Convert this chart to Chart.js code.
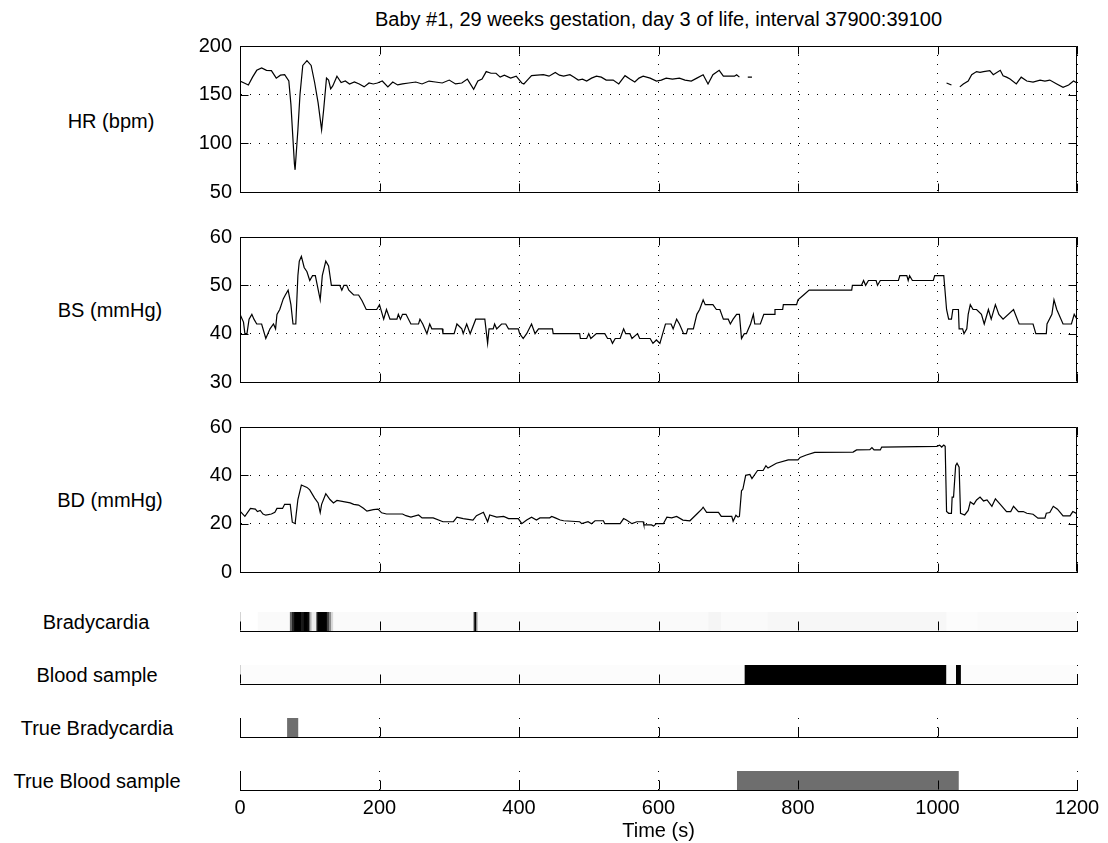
<!DOCTYPE html>
<html><head><meta charset="utf-8">
<script src="https://cdn.jsdelivr.net/npm/chart.js@4.4.1/dist/chart.umd.min.js"></script>
<style>
html,body{margin:0;padding:0;background:#fff;}
#wrap{position:relative;width:1108px;height:843px;background:#fff;font-family:"Liberation Sans",Arial,Helvetica,sans-serif;color:#000;overflow:hidden}
canvas{position:absolute;left:0}
.lbl{position:absolute;font-size:20px;white-space:nowrap;transform:translate(-50%,-50%);line-height:1}
</style></head><body>
<div id="wrap">
<div class="lbl" style="left:658.5px;top:19px">Baby #1, 29 weeks gestation, day 3 of life, interval 37900:39100</div>
<div class="lbl" style="left:111px;top:121px">HR (bpm)</div>
<div class="lbl" style="left:110px;top:310px">BS (mmHg)</div>
<div class="lbl" style="left:110px;top:500px">BD (mmHg)</div>
<div class="lbl" style="left:96px;top:622px">Bradycardia</div>
<div class="lbl" style="left:97px;top:675px">Blood sample</div>
<div class="lbl" style="left:97px;top:728px">True Bradycardia</div>
<div class="lbl" style="left:97px;top:781px">True Blood sample</div>
<canvas id="cHR" width="1108" height="186" style="top:26px"></canvas>
<canvas id="cBS" width="1108" height="185" style="top:217px"></canvas>
<canvas id="cBD" width="1108" height="185" style="top:407px"></canvas>
<canvas id="cBr" width="1108" height="29" style="top:607px"></canvas>
<canvas id="cBl" width="1108" height="29" style="top:660px"></canvas>
<canvas id="cTBr" width="1108" height="29" style="top:713px"></canvas>
<canvas id="cTBl" width="1108" height="77" style="top:766px"></canvas>
</div>
<script>
// ---------------- DATA ----------------
const hrTime = [
 0,6,12,18,24,31,38,45,52,58,
 64,70,73,78,79,83,86,90,96,102,
 107,112,117,120,124,127,130,133,139,145,
 151,157,164,171,178,185,191,197,204,212,
 219,226,233,242,252,261,271,280,290,300,
 309,318,326,335,341,347,353,360,367,373,
 379,388,396,404,407,412,418,426,435,443,
 452,458,464,473,479,485,491,497,504,511,
 518,525,535,543,552,559,566,572,578,588,
 597,604,611,620,630,638,647,655,664,671,
 678,687,693,701,709,712,716,720,728,734,
 736,1013,1020,1025,1032,1037,1044,1049,1056,1061,
 1066,1075,1080,1090,1094,1099,1104,1113,1120,1128,
 1137,1147,1154,1161,1171,1180,1188,1195,1200];
const hrValue = [
 164,162,160,168,175,177.5,175,174.7,167,170,
 170.5,164,140,79,72.8,114,150,180,185,180,
 162.5,141.6,114,135,167,165,156,159,169,162.5,
 164,161,163,161,158,162,161,162,164,158,
 163,160,161,162,163,161,164,163,162,165,
 161,162,166,155.5,164,166,173.7,172,172,168,
 170,167,169,162,161,165,169.5,170,170.5,169,
 172.8,170,169,170.5,168,165,166,164,167,169,
 168,165,165,161,169.5,166,163,167,169,167,
 164,165,167,166,167,165,164,167,170.5,161,
 170.5,175,169,169,169,170.5,168,null,168,168,
 null,162,160,null,158,161,164,170.5,173.7,173,
 173.7,174.7,170.5,175,169.5,168,166,161,168,164,
 163,165,164,165,161,157.5,160,164,162];

const bsTime = [
 0,5,7,10,13,17,20,24,31,37,
 43,48,51,53,57,62,65,69,73,76,
 80,83,85,88,92,96,100,104,108,115,
 118,123,127,131,143,146,149,153,156,163,
 170,175,181,196,200,206,210,215,225,227,
 230,233,238,245,256,258,262,268,272,275,
 290,291,307,311,318,320,325,330,338,351,
 355,357,363,365,368,375,381,385,399,401,
 406,411,418,423,428,448,449,487,488,497,
 500,503,511,523,527,531,534,538,545,550,
 553,559,562,570,573,588,592,597,602,606,
 610,618,621,626,630,636,640,642,650,655,
 659,664,667,678,683,688,693,700,703,707,
 712,716,719,723,726,729,732,736,738,746,
 751,766,767,778,779,798,800,808,816,877,
 878,891,894,897,901,912,914,918,944,946,
 956,958,960,964,994,996,1009,1013,1016,1020,
 1022,1030,1031,1036,1038,1042,1044,1047,1051,1056,
 1063,1067,1073,1077,1083,1088,1094,1109,1117,1137,
 1141,1156,1157,1164,1167,1171,1180,1192,1196,1200];
const bsValue = [
 44,42.4,40,40,43,44,43,42,42,39,
 41,42,41,44,45,47.2,48,49,46,42,
 42,52,55,56,53.7,52.8,51,52,52,47,
 52,55,54,50,50,49,50,50,49,48,
 48,46.8,45,45,46,43,45,43,43,44,
 43,44,44,42,42,43,42,40,42,41,
 41,40,40,42,41,40,42,40,43,43,
 38,41,41,42,41,42,42,41,41,40,
 39,40,42,40,41,41,40,40,39,39,
 40,39,40,40,39,39,38,39,39,41,
 40,40,39,40,39,39,38,38.7,38,40,
 42,42,41,43,42,40,40,41,41,44,
 45,47,46,46,45,45,43,43,42,43,
 44,44,39,40,40,41,42,44,42,42,
 44,44,45,45,46,46,47,48,49,49,
 50,50,51,50,51,51,50,51,51,52,
 52,51,52,51,51,52,52,45,43,43,
 45,45,41,41,40,41,44,46,45,45,
 44,42,45,43,46,44,43,45,42,42,
 40,40,42,44,47,45,42,42,44,43];

const bdTime = [
 0,7,15,22,25,29,33,37,45,50,
 53,61,64,72,75,79,83,88,96,100,
 107,112,115,117,123,129,134,139,158,163,
 170,177,182,191,198,203,210,233,238,245,
 256,261,277,291,306,311,320,334,339,349,
 355,358,368,378,385,399,404,411,418,425,
 430,444,447,452,459,464,487,490,499,504,
 509,521,523,545,550,554,562,569,578,579,
 590,593,597,607,612,619,626,635,645,655,
 662,664,669,686,690,705,707,711,714,716,
 719,721,725,731,734,742,750,754,757,769,
 786,800,803,812,824,879,884,903,906,909,
 918,920,999,1003,1006,1009,1011,1013,1016,1020,
 1021,1023,1026,1028,1031,1033,1039,1044,1047,1052,
 1056,1061,1066,1071,1078,1083,1090,1099,1105,1109,
 1116,1123,1128,1137,1144,1154,1156,1161,1166,1172,
 1180,1190,1194,1199,1200];
const bdValue = [
 25.2,23,26.3,26,25,25.5,24,23.5,24,24.7,
 26.3,26.3,28,28,20.6,20,30,36,35,34,
 30.6,28.6,24.6,28,32.4,30,28.6,29.6,28.6,28,
 27.7,26.4,25.2,25.8,26,24.5,24,24,23.3,22.7,
 23.6,22.4,22.4,20.8,20.8,22.7,22.1,21.5,23.3,24.7,
 20.8,23.6,22.7,23,22.1,22.1,20,21.5,22.7,21.5,
 22.4,22.4,23,22.4,21.5,21.2,20.8,20,20.8,20,
 21.2,21.2,20,20,22.1,21.5,20,20.8,20.8,19.5,
 19.5,19,20,20,22.7,22.4,23,21.5,21.2,24,
 26,26.8,24.7,24.7,23,23,21,23.5,22.7,23,
 33.6,34.3,40,40.4,38.7,42,42,44,43,45,
 46.4,46.4,47.4,48.4,49.5,49.6,50.5,50.6,51.5,50.5,
 50.5,51.7,52,52.5,51.7,52.5,52,25,24.3,24.3,
 31,31,44,45,43.4,24.3,23.6,25.5,29,28,
 29.8,31,29.4,29.8,27.2,30.3,28,25,25,27.2,
 25,25,24.3,23.9,22.3,22.3,24.3,24.6,27.2,26,
 23.2,23.2,25,24.3,24.3];

// detector outputs: segment edges (s) and probability inside each segment
const bradyEdges = [0,26,72,75,78,88,92,97,100,103,110,112,125,128,131,134,335,336.5,339,341,672,690,757,1013,1058,1200];
const bradyProb  = [0,0.02,0.6,0.85,1,0.9,1,0.95,0.3,0.07,0.85,1,0.75,0.45,0.15,0.02,0.5,1,0.4,0.02,0.04,0.02,0.03,0.01,0.02];
const bloodEdges = [0,724,1013,1027,1034,1200];
const bloodProb  = [0.01,1,0.02,1,0.01];
// annotated (true) events
const trueBradyStart = [68];
const trueBradyEnd   = [83];
const trueBloodStart = [713];
const trueBloodEnd   = [1030];

const xMin = 0, xMax = 1200, xStep = 200;

// ---------------- RENDERING ----------------
Chart.defaults.font.family = '"Liberation Sans", Arial, Helvetica, sans-serif';
Chart.defaults.font.size = 20;
Chart.defaults.color = '#000';
Chart.defaults.animation = false;

const matlabAxes = {
  id: 'matlabAxes',
  afterDraw(chart, args, opts) {
    const {ctx, chartArea: a, scales} = chart;
    const len = opts.len || 8;
    const L = Math.round(a.left) + 0.5, R = Math.round(a.right) - 0.5;
    const T = Math.round(a.top) + 0.5, B = Math.round(a.bottom) - 0.5;
    ctx.save();
    ctx.strokeStyle = '#000';
    ctx.lineWidth = 1;
    ctx.setLineDash([]);
    ctx.beginPath();
    const xs = scales.x;
    xs.ticks.forEach(t => {
      const px = Math.round(xs.getPixelForValue(t.value)) + 0.5;
      ctx.moveTo(px, B); ctx.lineTo(px, B - len);
      if (opts.box) { ctx.moveTo(px, T); ctx.lineTo(px, T + len); }
    });
    if (opts.box) {
      const ys = scales.y;
      ys.ticks.forEach(t => {
        const py = Math.round(ys.getPixelForValue(t.value)) + 0.5;
        ctx.moveTo(L, py); ctx.lineTo(L + len, py);
        ctx.moveTo(R, py); ctx.lineTo(R - len, py);
      });
      ctx.moveTo(L, T); ctx.lineTo(R, T); ctx.lineTo(R, B);
    }
    ctx.stroke();
    ctx.restore();
  }
};

function xScale(showLabels, z) {
  return {
    type: 'linear', min: xMin, max: xMax, z: z || 0,
    ticks: {display: showLabels, stepSize: xStep, padding: 6, color: '#000', font: {size: 20},
            callback: v => String(v)},
    grid: {color: '#000', lineWidth: 1, drawTicks: false},
    border: {display: true, color: '#000', width: 1, dash: [1, 8]},
    title: {display: showLabels, text: 'Time (s)', padding: 0, font: {size: 20}, color: '#000'},
    afterFit(s) { s.height = showLabels ? 53 : 0; }
  };
}

function lineChart(id, times, values, yMin, yMax, yStep) {
  const pts = times.map((t, i) => ({x: t, y: values[i]}));
  return new Chart(document.getElementById(id), {
    type: 'line',
    data: {datasets: [{data: pts, borderColor: '#000', borderWidth: 1.2, pointRadius: 0, tension: 0, spanGaps: false, fill: false}]},
    options: {
      responsive: false, events: [],
      layout: {padding: {top: 15, bottom: 15, left: 0, right: 31}},
      scales: {
        x: xScale(false),
        y: {
          min: yMin, max: yMax,
          ticks: {stepSize: yStep, padding: 8, color: '#000', font: {size: 20}, callback: v => String(v)},
          grid: {color: '#000', lineWidth: 1, drawTicks: false},
          border: {display: true, color: '#000', width: 1, dash: [1, 8]},
          afterFit(s) { s.width = 240; }
        }
      },
      plugins: {legend: {display: false}, tooltip: {enabled: false}, matlabAxes: {box: true, len: 8}}
    },
    plugins: [matlabAxes]
  });
}

function gray(p) { const g = Math.round(255 * (1 - p)); return `rgb(${g},${g},${g})`; }

function stripChart(id, segs, colors, last) {
  return new Chart(document.getElementById(id), {
    type: 'bar',
    data: {labels: ['r'], datasets: [{
      data: segs, backgroundColor: colors, borderWidth: 0,
      barPercentage: 1, categoryPercentage: 1
    }]},
    options: {
      indexAxis: 'y', responsive: false, events: [],
      layout: {padding: {top: 5, bottom: last ? 0 : 5, left: 0, right: 31}},
      scales: {
        x: xScale(!!last, 1),
        y: {
          ticks: {display: false},
          grid: {display: false, drawTicks: false},
          border: {display: true, color: '#000', width: 1},
          afterFit(s) { s.width = 240; }
        }
      },
      plugins: {legend: {display: false}, tooltip: {enabled: false}, matlabAxes: {box: false, len: 9}}
    },
    plugins: [matlabAxes]
  });
}

function fromEdges(edges, prob) {
  return {
    segs: prob.map((p, i) => ({x: [edges[i], edges[i + 1]], y: 'r'})),
    colors: prob.map(p => gray(p))
  };
}
function fromEvents(starts, ends, color) {
  return {
    segs: starts.map((s, i) => ({x: [s, ends[i]], y: 'r'})),
    colors: starts.map(() => color)
  };
}

lineChart('cHR', hrTime, hrValue, 50, 200, 50);
lineChart('cBS', bsTime, bsValue, 30, 60, 10);
lineChart('cBD', bdTime, bdValue, 0, 60, 20);
const br = fromEdges(bradyEdges, bradyProb);
stripChart('cBr', br.segs, br.colors, false);
const bl = fromEdges(bloodEdges, bloodProb);
stripChart('cBl', bl.segs, bl.colors, false);
const tb = fromEvents(trueBradyStart, trueBradyEnd, '#6e6e6e');
stripChart('cTBr', tb.segs, tb.colors, false);
const tbl = fromEvents(trueBloodStart, trueBloodEnd, '#6e6e6e');
stripChart('cTBl', tbl.segs, tbl.colors, true);
</script>
</body></html>
